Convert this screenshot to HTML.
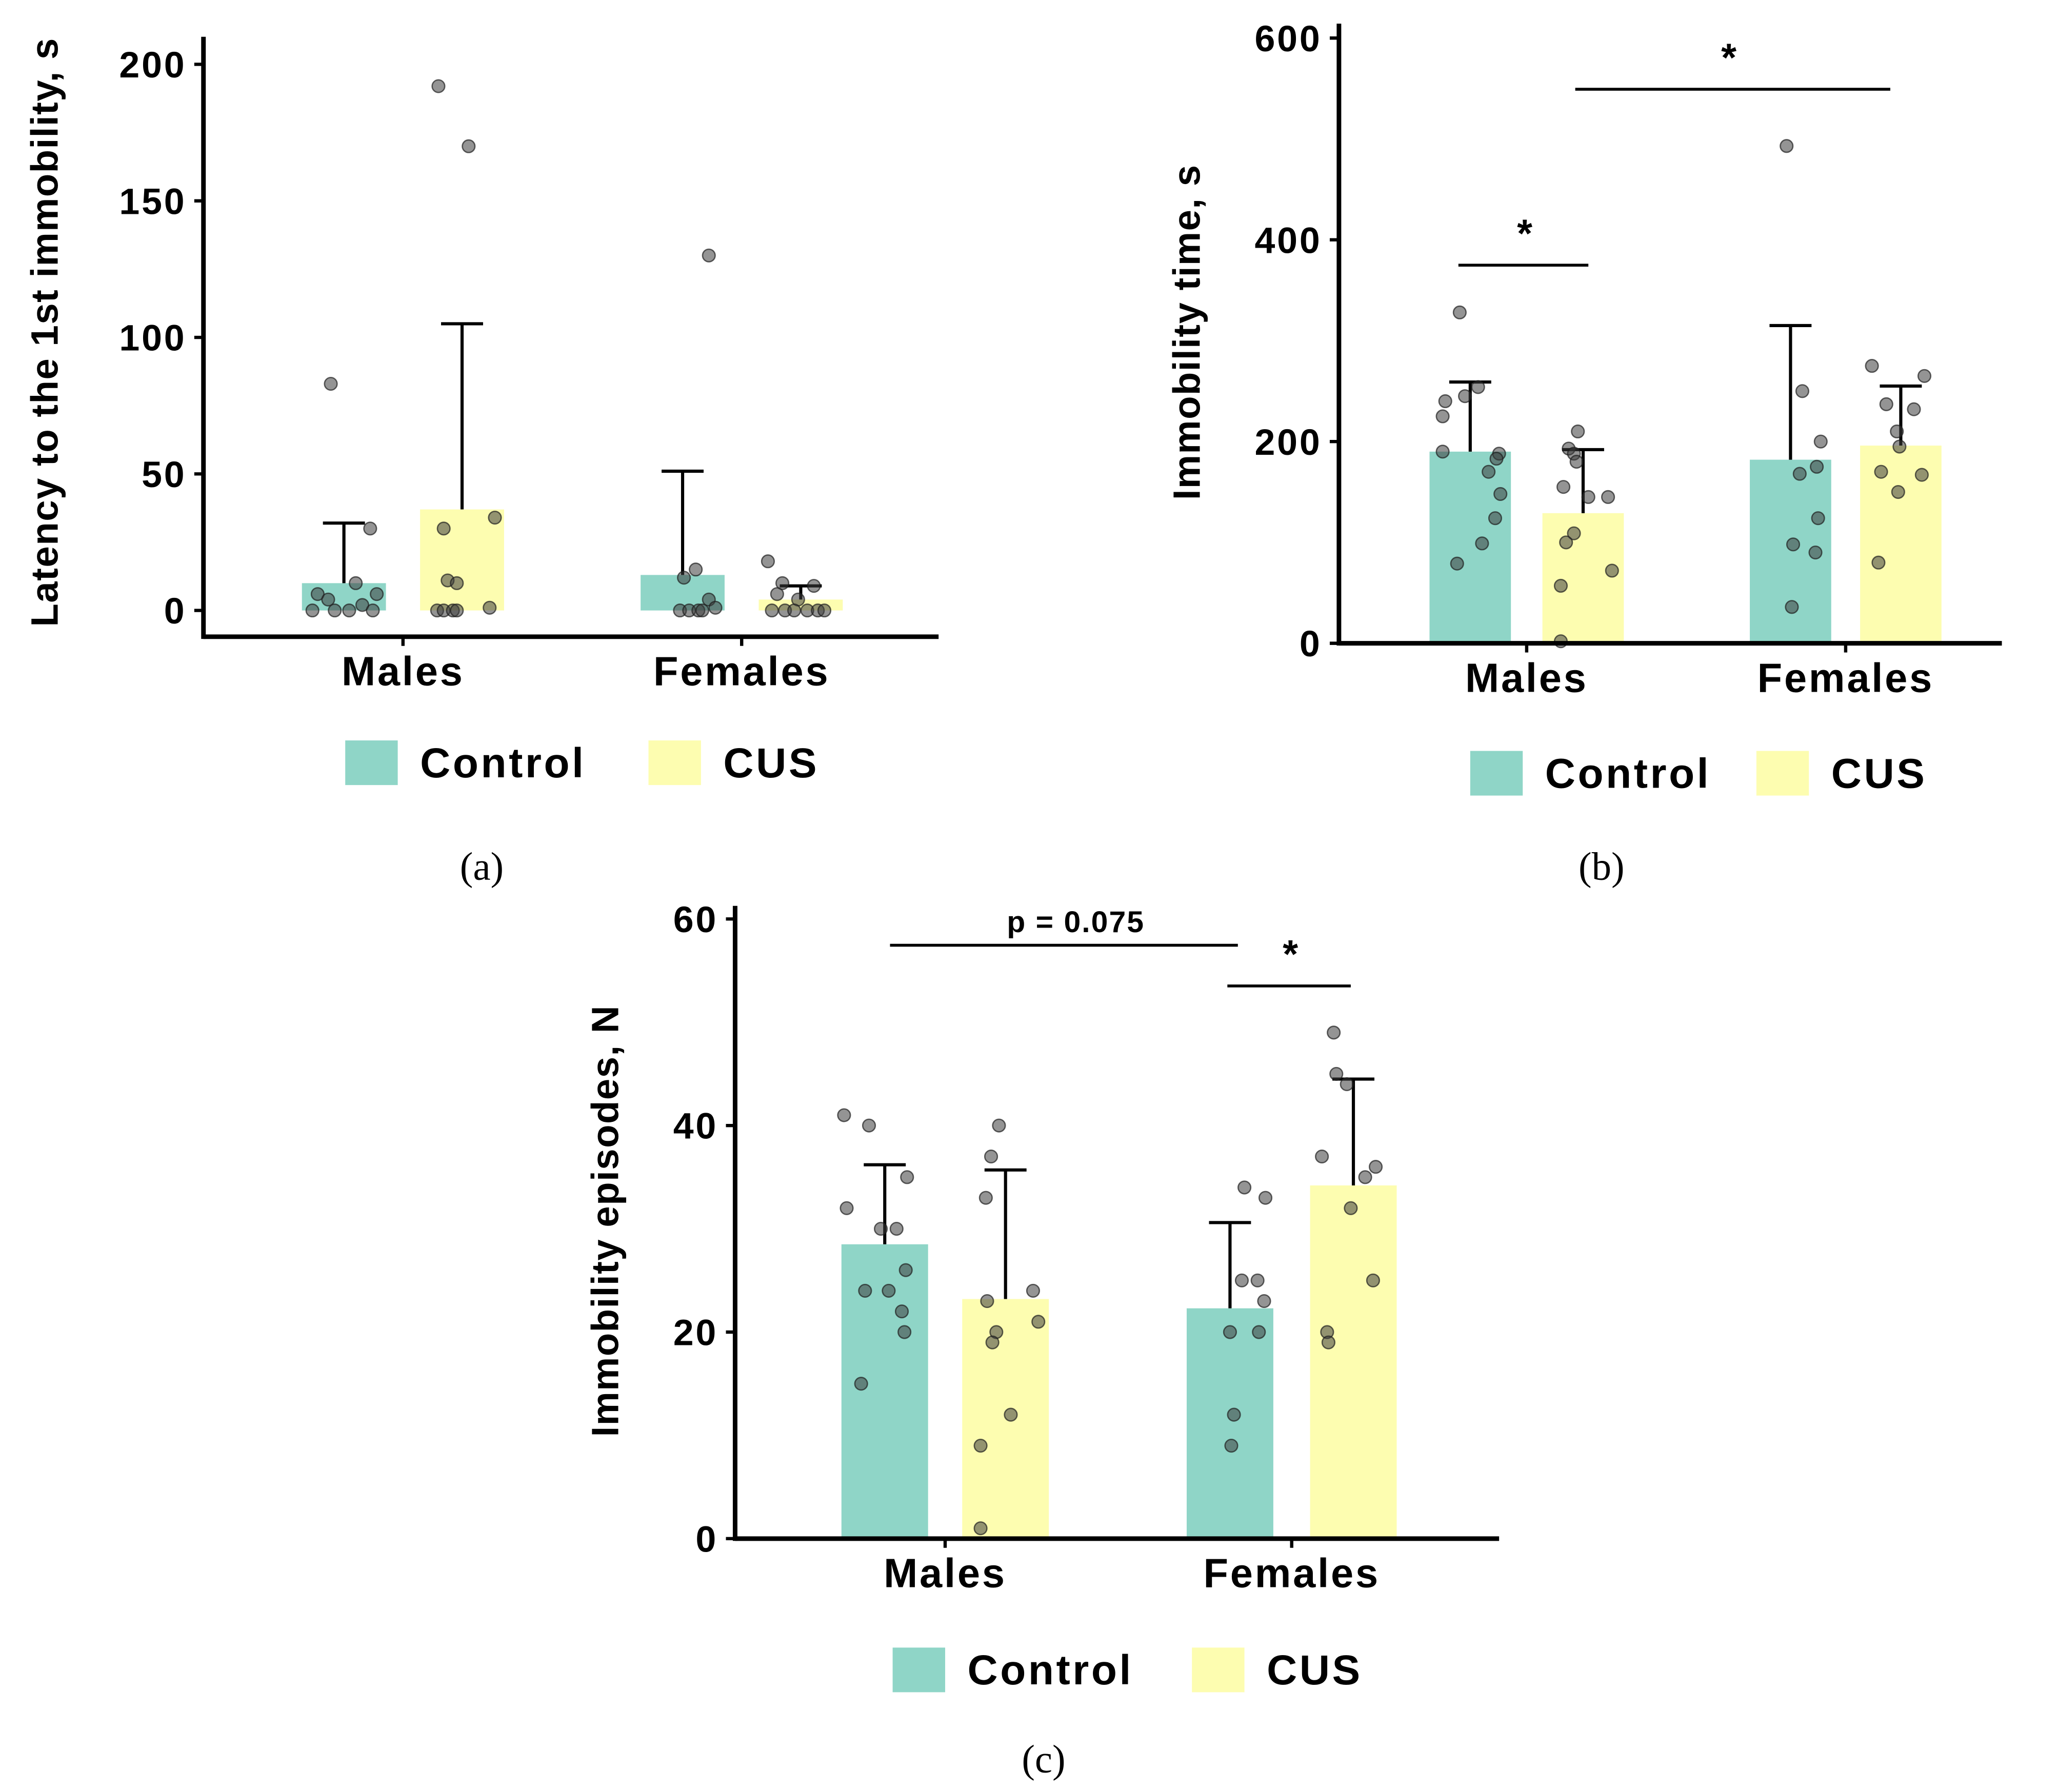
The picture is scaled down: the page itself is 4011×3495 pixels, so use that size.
<!DOCTYPE html>
<html><head><meta charset="utf-8"><style>
html,body{margin:0;padding:0;background:#fff;}
svg{display:block;}
text{font-family:"Liberation Sans",sans-serif;font-weight:bold;fill:#000;}
</style></head><body>
<svg id="fig" width="4011" height="3495" viewBox="0 0 1567 1365" preserveAspectRatio="none" xmlns="http://www.w3.org/2000/svg"></svg>
<script>
// ---- data ----
const categories = ["Males","Females"];
const groups = ["Control","CUS"];
// panel a
const aMeans = [10, 37, 13, 4];
const aErr = [32, 105, 51, 9];
const aTicks = [0,50,100,150,200];
const aPts = [
 [83,30,10,6,6,4,2,0,0,0,0],
 [192,170,34,30,11,10,1,0,0,0,0],
 [130,15,12,4,1,0,0,0,0],
 [18,10,9,6,4,0,0,0,0,0,0]];
const aPx = [
 [-10,20,9,25,-20,-12,14,-24,-7,4,22],
 [-18,5,25,-14,-11,-4,21,-19,-14,-7,-4],
 [20,10,1,20,25,-2,5,12,15],
 [-25,-14,10,-18,-2,-22,-12,-5,5,13,18]];
// panel b
const bMeans = [190, 129, 182, 196];
const bErr = [259, 192, 315, 255];
const bTicks = [0,200,400,600];
const bPts = [
 [328,254,245,240,225,190,188,183,170,148,124,99,79],
 [210,193,188,180,155,145,145,109,100,72,57,2],
 [493,250,200,175,168,124,98,90,36],
 [275,265,237,232,210,195,170,167,150,80]];
const bPx = [
 [-8,6,-4,-19,-21,-21,22,20,14,23,19,9,-10],
 [-4,-11,-7,-5,-15,19,4,-7,-13,22,-17,-17],
 [-3,9,23,20,7,21,2,19,1],
 [-22,18,-11,10,-3,-1,-15,16,-2,-17]];
// panel c
const cMeans = [28.5, 23.2, 22.3, 34.2];
const cErr = [36.2, 35.7, 30.6, 44.5];
const cTicks = [0,20,40,60];
const cPts = [
 [41,40,35,32,30,30,26,24,24,22,20,15],
 [40,37,33,24,23,21,20,19,12,9,1],
 [34,33,25,25,23,20,20,12,9],
 [49,45,44,37,36,35,32,25,20,19]];
const cPx = [
 [-31,-12,17,-29,-3,9,16,-15,3,13,15,-18],
 [-5,-11,-15,21,-14,25,-7,-10,4,-19,-19],
 [11,27,9,21,26,0,22,3,1],
 [-15,-13,-5,-24,17,9,-2,15,-20,-19]];

const NS="http://www.w3.org/2000/svg";
const svg=document.getElementById('fig');
function el(tag,attrs,parent){const e=document.createElementNS(NS,tag);for(const k in attrs)e.setAttribute(k,attrs[k]);(parent||svg).appendChild(e);return e;}
function txt(s,attrs,parent){const e=el('text',attrs,parent);e.textContent=s;return e;}

function panel(cfg){
 const g=el('g',{});
 
 
 const y=v=>cfg.y0-(v-0)/(cfg.vmax)*(cfg.y0-cfg.yTop);
 cfg.means.forEach((m,i)=>{
  const cx=cfg.centers[i];
  const b=el('rect',{x:cx-cfg.bw/2,y:y(m),width:cfg.bw,height:cfg.y0-y(m),fill:i%2?'#fdfdb0':'#8fd5c7'},g);
  
  
 });
 cfg.err.forEach((e,i)=>{
  const cx=cfg.centers[i];
  const eg=el('g',{stroke:'#000','stroke-width':2.4},g);
  
  
  el('line',{x1:cx,x2:cx,y1:y(cfg.means[i]),y2:y(e)},eg);
  el('line',{x1:cx-16,x2:cx+16,y1:y(e),y2:y(e)},eg);
 });
 cfg.pts.forEach((arr,i)=>{arr.forEach((v,j)=>{
  const p=el('circle',{cx:cfg.centers[i]+cfg.px[i][j],cy:y(v),r:4.8,fill:'rgba(60,60,60,0.55)',stroke:'rgba(30,30,30,0.7)','stroke-width':1},g);
  
  
 });});
 const ax=el('g',{stroke:'#000','stroke-width':3.5},g);
 
 
 el('line',{x1:cfg.x0,x2:cfg.x0,y1:cfg.axTop,y2:cfg.axBot+1.7},ax);
 el('line',{x1:cfg.x0,x2:cfg.xEnd,y1:cfg.axBot,y2:cfg.axBot},ax);
 cfg.ticks.forEach(t=>{
  el('line',{x1:cfg.x0-7,x2:cfg.x0,y1:y(t),y2:y(t),'stroke-width':2.5},ax);
  const tl=txt(String(t),{x:cfg.x0-13,y:y(t)+10,'text-anchor':'end','font-size':28,'letter-spacing':1.5},g);
  
  
 });
 categories.forEach((c,k)=>{
  const cx=(cfg.centers[2*k]+cfg.centers[2*k+1])/2;
  el('line',{x1:cx,x2:cx,y1:cfg.axBot,y2:cfg.axBot+7,'stroke-width':2.5},ax);
  const cl=txt(c,{x:cx,y:cfg.axBot+37,'text-anchor':'middle','font-size':31,'letter-spacing':1.5},g);
  
  
 });
 const yt=txt(cfg.title,{x:0,y:0,'text-anchor':'middle','font-size':29,'letter-spacing':0.6,transform:`translate(${cfg.titleX},${cfg.titleY}) rotate(-90)`},g);
 
 
 const lg=el('g',{},g);
 
 
 [['Control','#8fd5c7',cfg.leg[0]],['CUS','#fdfdb0',cfg.leg[1]]].forEach(([n,c,lx])=>{
  const sw=el('rect',{x:lx,y:cfg.legY-17,width:40,height:34,fill:c},lg);
  
  
  const lt=txt(n,{x:lx+57,y:cfg.legY+11,'font-size':32,'letter-spacing':1.8},lg);
  
  
 });
 const cap=txt(cfg.cap,{x:cfg.capX,y:cfg.capY,'text-anchor':'middle','font-size':30,style:'font-family:"Liberation Serif",serif;font-weight:normal'},g);
 
 
 (cfg.sig||[]).forEach(s=>{
  const sg=el('g',{},g);
  
  
  el('line',{x1:s[0],x2:s[1],y1:s[2],y2:s[2],stroke:'#000','stroke-width':2.2},sg);
  txt(s[3],{x:(s[0]+s[1])/2+(s[4]||0),y:s[2]-(s[3]=='*'?14:10),'text-anchor':'middle','font-size':s[3]=='*'?30:23,'letter-spacing':s[3]=='*'?0:0.8},sg);
 });
}

panel({name:'panel-a-latency',means:aMeans,err:aErr,pts:aPts,px:aPx,ticks:aTicks,
 y0:465,yTop:49,vmax:200,centers:[262,352,520,610],bw:64,x0:155,xEnd:715,axTop:28,axBot:485,
 title:'Latency to the 1st immobility, s',titleX:44,titleY:253,leg:[263,494],legY:581,cap:'(a)',capX:367,capY:670});
panel({name:'panel-b-immobility-time',means:bMeans,err:bErr,pts:bPts,px:bPx,ticks:bTicks,
 y0:490,yTop:29,vmax:600,centers:[1120,1206,1364,1448],bw:62,x0:1020,xEnd:1525,axTop:18,axBot:490,
 title:'Immobility time, s',titleX:914,titleY:253,leg:[1120,1338],legY:589,cap:'(b)',capX:1220,capY:670,
 sig:[[1111,1210,202,'*',1],[1200,1440,68,'*',-3]]});
panel({name:'panel-c-immobility-episodes',means:cMeans,err:cErr,pts:cPts,px:cPx,ticks:cTicks,
 y0:1172,yTop:700,vmax:60,centers:[674,766,937,1031],bw:66,x0:560,xEnd:1142,axTop:690,axBot:1172,
 title:'Immobility episodes, N',titleX:471,titleY:930,leg:[680,908],legY:1272,cap:'(c)',capX:795,capY:1350,
 sig:[[678,943,720,'p = 0.075',9],[935,1029,751,'*',1]]});
</script>
</body></html>
